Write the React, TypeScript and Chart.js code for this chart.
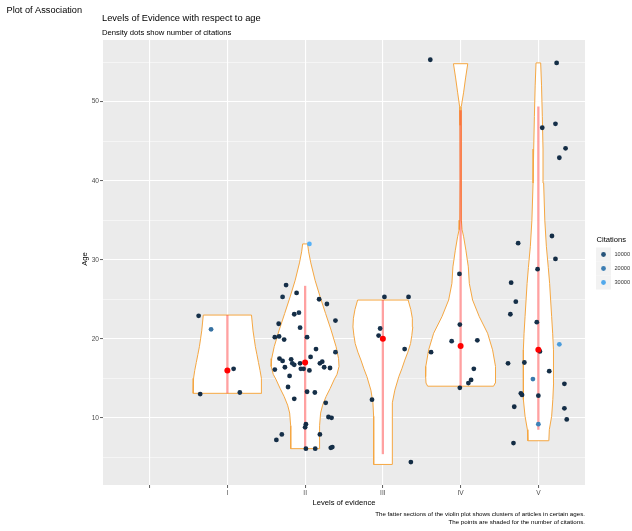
import React, { useEffect, useRef } from "react";
import { Chart, registerables } from "chart.js";

Chart.register(...registerables);

// ---------- data ----------
const categories = ["", "I", "II", "III", "IV", "V"];
const yGridValues = [5, 10, 15, 20, 25, 30, 35, 40, 45, 50, 55];
const legendBreaks = [10000, 20000, 30000];

// violin outlines: ages and half-widths (category units)
const violinAgesI = [23.0, 22.0, 21.0, 20.0, 19.0, 18.0, 17.0, 16.0, 15.0, 14.0, 13.1];
const violinWidthsI = [0.31, 0.32, 0.33, 0.345, 0.36, 0.38, 0.4, 0.42, 0.435, 0.44, 0.44];
const violinAgesII = [32.0, 31.0, 29.6, 27.4, 25.3, 23.2, 21.1, 19.0, 17.5, 16.5, 15.5, 14.8, 13.7, 12.7, 11.6, 10.6, 9.0, 7.5, 6.1];
const violinWidthsII = [0.032, 0.045, 0.073, 0.128, 0.193, 0.263, 0.334, 0.398, 0.43, 0.436, 0.41, 0.372, 0.321, 0.27, 0.225, 0.199, 0.186, 0.186, 0.184];
const violinAgesIII = [24.9, 23.7, 22.6, 21.5, 20.4, 19.4, 18.3, 17.3, 16.2, 15.2, 13.5, 11.9, 10.2, 7.0, 4.1];
const violinWidthsIII = [0.325, 0.359, 0.379, 0.385, 0.372, 0.356, 0.321, 0.282, 0.244, 0.205, 0.154, 0.128, 0.119, 0.118, 0.118];
const violinAgesIV = [54.8, 53.0, 51.2, 49.4, 47.0, 40.0, 35.0, 33.8, 32.9, 31.2, 29.1, 27.0, 24.9, 22.8, 20.7, 18.6, 16.5, 15.2, 14.4, 14.0];
const violinWidthsIV = [0.092, 0.064, 0.039, 0.013, 0.008, 0.006, 0.01, 0.019, 0.039, 0.068, 0.099, 0.112, 0.154, 0.24, 0.347, 0.411, 0.448, 0.45, 0.445, 0.424];
const violinAgesV = [54.9, 52.0, 48.1, 44.0, 39.7, 35.0, 31.7, 29.0, 27.0, 24.9, 22.8, 20.7, 18.6, 16.5, 14.4, 12.3, 10.2, 8.5, 7.1];
const violinWidthsV = [0.03, 0.041, 0.051, 0.06, 0.068, 0.083, 0.103, 0.128, 0.145, 0.158, 0.171, 0.184, 0.193, 0.196, 0.196, 0.186, 0.171, 0.141, 0.135];

// summary: mean and range line per category (I..V)
const meanAge = [16.0, 17.0, 20.0, 19.1, 18.6];
const rangeLow = [13.1, 6.1, 5.4, 14.0, 8.5];
const rangeHigh = [23.0, 26.7, 24.9, 48.9, 49.4];

// jittered points: offset from category centre, age, citations
const jitterI = [-0.37, -0.21, -0.35, 0.08, 0.16];
const ageI = [22.9, 21.2, 13.0, 16.2, 13.2];
const citI = [1500, 17000, 900, 1200, 2000];

const jitterII = [0.055, -0.245, -0.11, -0.29, 0.18, 0.28, -0.14, -0.08, 0.39, -0.34, -0.065, -0.39, -0.335, -0.27, 0.025, 0.14, 0.39, 0.07, -0.33, -0.29, -0.18, -0.165, -0.065, 0.19, 0.22, -0.14, -0.26, -0.055, -0.02, 0.055, 0.245, 0.32, -0.39, -0.2, -0.22, 0.025, 0.125, -0.14, 0.265, 0.3, 0.34, 0.01, 0.0, 0.19, -0.3, -0.37, 0.01, 0.13, 0.33, 0.35];
const ageII = [32.0, 26.8, 25.8, 25.3, 25.0, 24.4, 23.1, 23.3, 22.3, 21.9, 21.4, 20.2, 20.3, 19.9, 20.2, 18.7, 18.3, 17.7, 17.5, 17.2, 17.4, 16.9, 16.9, 16.9, 17.1, 16.7, 16.4, 16.2, 16.2, 16.0, 16.4, 16.3, 16.1, 15.3, 13.9, 13.3, 13.2, 12.4, 11.9, 10.1, 10.0, 9.2, 8.8, 7.9, 7.9, 7.2, 6.1, 6.1, 6.2, 6.3];
const citII = [32000, 1200, 800, 2500, 600, 1500, 900, 3000, 700, 1100, 2200, 400, 1300, 900, 1800, 600, 2700, 1000, 500, 1400, 800, 2100, 700, 1200, 900, 1600, 500, 2400, 1000, 800, 1300, 600, 1900, 700, 1100, 900, 1500, 600, 2000, 800, 1200, 700, 1000, 600, 1400, 900, 500, 1100, 800, 1300];

const jitterIII = [0.02, 0.33, -0.035, -0.055, 0.28, -0.14, 0.36];
const ageIII = [25.3, 25.3, 21.3, 20.4, 18.7, 12.3, 4.4];
const citIII = [1200, 900, 2000, 700, 1500, 1000, 600];

const jitterIV = [-0.39, -0.015, -0.01, -0.115, 0.215, -0.38, 0.17, 0.135, 0.1, -0.01];
const ageIV = [55.3, 28.2, 21.8, 19.7, 19.8, 18.3, 16.2, 14.8, 14.4, 13.8];
const citIV = [800, 1500, 1100, 2200, 900, 700, 1300, 600, 1800, 1000];

const jitterV = [0.235, 0.22, 0.05, 0.35, 0.27, 0.175, -0.26, 0.22, -0.01, -0.35, -0.29, -0.36, -0.02, 0.27, 0.02, -0.39, -0.18, 0.14, -0.07, 0.335, -0.225, -0.21, 0.0, -0.31, 0.335, 0.365, 0.0, -0.32];
const ageV = [54.9, 47.2, 46.7, 44.1, 42.9, 33.0, 32.1, 30.1, 28.8, 27.1, 24.7, 23.1, 22.1, 19.3, 18.4, 16.9, 17.0, 15.9, 14.9, 14.3, 13.1, 12.9, 12.8, 11.4, 11.2, 9.8, 9.2, 6.8];
const citV = [1000, 1400, 800, 600, 1200, 900, 1700, 700, 1100, 500, 1300, 900, 2000, 27000, 800, 600, 1500, 1000, 19000, 700, 1200, 900, 1600, 500, 1100, 800, 21000, 600];

// ---------- helpers ----------
const LOW = [19, 43, 67];
const HIGH = [86, 177, 247];
const allCit = [...citI, ...citII, ...citIII, ...citIV, ...citV];
const citMin = Math.min(...allCit);
const citMax = Math.max(...allCit);
function colorFor(c: number) {
  const t = Math.max(0, Math.min(1, (c - citMin) / (citMax - citMin)));
  const rgb = LOW.map((l, i) => Math.round(l + (HIGH[i] - l) * t));
  return `rgb(${rgb[0]},${rgb[1]},${rgb[2]})`;
}

function violinPolygon(center: number, ages: number[], widths: number[]) {
  const pts: { x: number; y: number }[] = [];
  for (let k = ages.length - 1; k >= 0; k--) pts.push({ x: center + widths[k], y: ages[k] });
  for (let k = 0; k < ages.length; k++) pts.push({ x: center - widths[k], y: ages[k] });
  pts.push({ ...pts[0] });
  return pts;
}

const FONT = "'Liberation Sans', Arial, Helvetica, sans-serif";

export default function App() {
  const ref = useRef<HTMLCanvasElement | null>(null);

  useEffect(() => {
    const canvas = ref.current;
    if (!canvas) return;

    const violins = [
      [violinAgesI, violinWidthsI],
      [violinAgesII, violinWidthsII],
      [violinAgesIII, violinWidthsIII],
      [violinAgesIV, violinWidthsIV],
      [violinAgesV, violinWidthsV],
    ];
    const groups = [
      [jitterI, ageI, citI],
      [jitterII, ageII, citII],
      [jitterIII, ageIII, citIII],
      [jitterIV, ageIV, citIV],
      [jitterV, ageV, citV],
    ];

    const datasets: any[] = [];
    violins.forEach(([ages, widths], i) => {
      datasets.push({
        data: violinPolygon(i + 1, ages, widths),
        showLine: true,
        fill: "shape",
        backgroundColor: "#FFFFFF",
        borderColor: "#F5A742",
        borderWidth: 1,
        pointRadius: 0,
        pointHoverRadius: 0,
        order: 4,
      });
    });
    meanAge.forEach((_, i) => {
      datasets.push({
        data: [
          { x: i + 1, y: rangeLow[i] },
          { x: i + 1, y: rangeHigh[i] },
        ],
        showLine: true,
        fill: false,
        borderColor: "rgba(255,30,30,0.42)",
        borderWidth: 2.3,
        pointRadius: 0,
        order: 3,
      });
    });
    const pts: { x: number; y: number }[] = [];
    const cols: string[] = [];
    groups.forEach(([jit, ages, cits], i) => {
      ages.forEach((a, k) => {
        pts.push({ x: i + 1 + jit[k], y: a });
        cols.push(colorFor(cits[k]));
      });
    });
    datasets.push({
      data: pts,
      pointRadius: 2.4,
      pointBackgroundColor: cols,
      pointBorderWidth: 0,
      order: 2,
    });
    datasets.push({
      data: meanAge.map((m, i) => ({ x: i + 1, y: m })),
      pointRadius: 3,
      pointBackgroundColor: "#FF0000",
      pointBorderWidth: 0,
      order: 1,
    });

    const decor = {
      id: "decor",
      beforeDraw(chart: any) {
        const { ctx, chartArea } = chart;
        ctx.save();
        ctx.fillStyle = "#FFFFFF";
        ctx.fillRect(0, 0, chart.width, chart.height);
        ctx.fillStyle = "#EBEBEB";
        ctx.fillRect(chartArea.left, chartArea.top, chartArea.right - chartArea.left, chartArea.bottom - chartArea.top);
        ctx.restore();
      },
      afterDraw(chart: any) {
        const { ctx } = chart;
        ctx.save();
        ctx.fillStyle = "#000000";
        ctx.textBaseline = "alphabetic";
        ctx.textAlign = "left";
        ctx.font = `9.2px ${FONT}`;
        ctx.fillText("Plot of Association", 6.5, 12.5);
        ctx.font = `9.3px ${FONT}`;
        ctx.fillText("Levels of Evidence with respect to age", 102, 20.5);
        ctx.font = `7.7px ${FONT}`;
        ctx.fillText("Density dots show number of citations", 102, 34.5);

        ctx.textBaseline = "middle";
        ctx.textAlign = "center";
        ctx.font = `7.6px ${FONT}`;
        ctx.fillText("Levels of evidence", 344, 503);
        ctx.save();
        ctx.translate(85, 259);
        ctx.rotate(-Math.PI / 2);
        ctx.fillText("Age", 0, 0);
        ctx.restore();

        ctx.textAlign = "right";
        ctx.font = `6.2px ${FONT}`;
        ctx.fillText("The fatter sections of the violin plot shows clusters of articles in certain ages.", 585, 513.8);
        ctx.fillText("The points are shaded for the number of citations.", 585, 522.6);

        // legend
        ctx.textAlign = "left";
        ctx.font = `7.6px ${FONT}`;
        ctx.fillText("Citations", 596.5, 240);
        const ys = [254.5, 268.5, 282.5];
        legendBreaks.forEach((b, i) => {
          ctx.fillStyle = "#F2F2F2";
          ctx.fillRect(596, ys[i] - 7, 15, 14);
          ctx.fillStyle = colorFor(b);
          ctx.beginPath();
          ctx.arc(603.5, ys[i], 2.4, 0, Math.PI * 2);
          ctx.fill();
          ctx.fillStyle = "#333333";
          ctx.font = `5.6px ${FONT}`;
          ctx.fillText(String(b), 614.5, ys[i]);
        });
        ctx.restore();
      },
    };

    const tickFont = { family: FONT, size: 6.6 };

    const chart = new Chart(canvas, {
      type: "scatter",
      data: { datasets },
      options: {
        animation: false,
        responsive: false,
        devicePixelRatio: 1,
        events: [],
        layout: { padding: { top: 40, right: 47, bottom: 0, left: 0 } },
        plugins: { legend: { display: false }, tooltip: { enabled: false } },
        scales: {
          x: {
            type: "linear",
            min: -0.6,
            max: 5.6,
            afterBuildTicks: (s: any) => {
              s.ticks = categories.map((_, i) => ({ value: i }));
            },
            afterFit: (s: any) => {
              s.height = 46;
            },
            border: { display: false },
            grid: { color: "#FFFFFF", lineWidth: 1.1, tickLength: 3, tickColor: "#333333", tickWidth: 0.8 },
            ticks: {
              autoSkip: false,
              maxRotation: 0,
              padding: 1,
              color: "#4D4D4D",
              font: tickFont,
              callback: (v: any) => categories[Math.round(Number(v))] ?? "",
            },
          },
          y: {
            type: "linear",
            min: 1.5,
            max: 57.8,
            afterBuildTicks: (s: any) => {
              s.ticks = yGridValues.map((v) => ({ value: v }));
            },
            afterFit: (s: any) => {
              s.width = 103;
            },
            border: { display: false },
            grid: {
              color: "#FFFFFF",
              lineWidth: (c: any) => (c.tick && c.tick.value % 10 === 0 ? 1.1 : 0.5),
              tickLength: 3,
              tickColor: (c: any) => (c.tick && c.tick.value % 10 === 0 ? "#333333" : "rgba(0,0,0,0)"),
              tickWidth: 0.8,
            },
            ticks: {
              autoSkip: false,
              padding: 1,
              color: "#4D4D4D",
              font: tickFont,
              callback: (v: any) => (Number(v) % 10 === 0 ? String(v) : ""),
            },
          },
        },
      },
      plugins: [decor],
    } as any);

    return () => chart.destroy();
  }, []);

  return (
    <div style={{ position: "absolute", left: 0, top: 0, width: 632, height: 531, background: "#fff" }}>
      <canvas ref={ref} width={632} height={531} style={{ width: 632, height: 531, display: "block" }} />
    </div>
  );
}
